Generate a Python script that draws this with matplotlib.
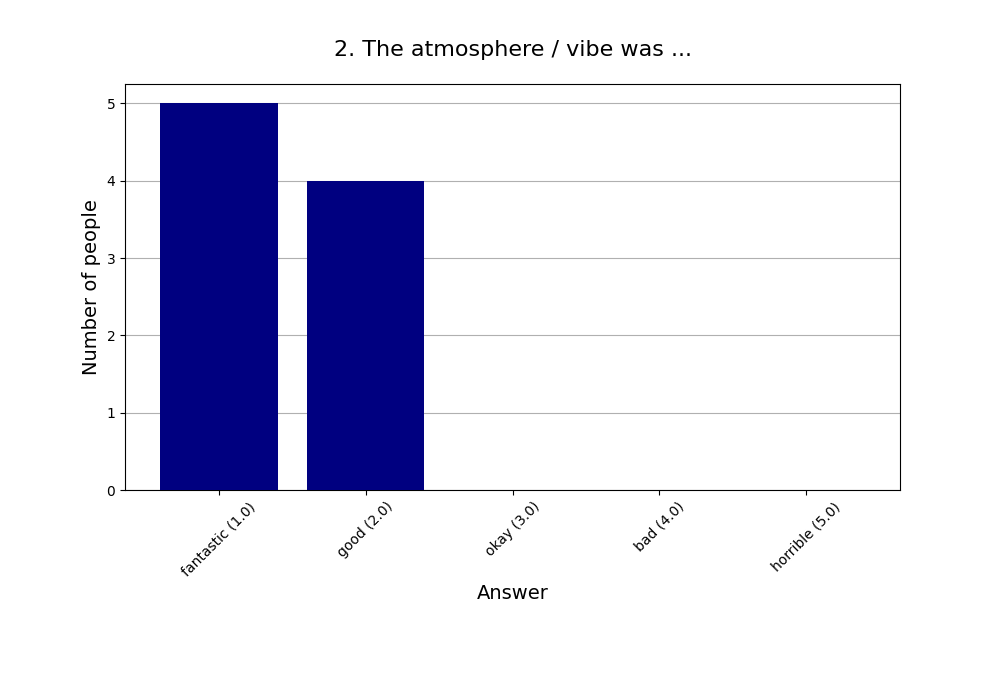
import numpy as np
import matplotlib
matplotlib.use("Agg")
import matplotlib.pyplot as plt

answers = ["fantastic (1.0)", "good (2.0)", "okay (3.0)", "bad (4.0)", "horrible (5.0)"]
counts = [5, 4, 0, 0, 0]

fig, ax = plt.subplots(figsize=(10, 7), dpi=100)
x = np.arange(len(answers))
ax.bar(x, counts, color="navy", zorder=3)
ax.set_xticks(x)
ax.set_xticklabels(answers, rotation=45)
ax.set_ylabel("Number of people", fontsize=14)
ax.set_xlabel("Answer", fontsize=14)
ax.set_title("2. The atmosphere / vibe was ...", fontsize=16, pad=20)
ax.grid(axis="y", zorder=0)
fig.subplots_adjust(bottom=0.3)
fig.savefig("out.png")
